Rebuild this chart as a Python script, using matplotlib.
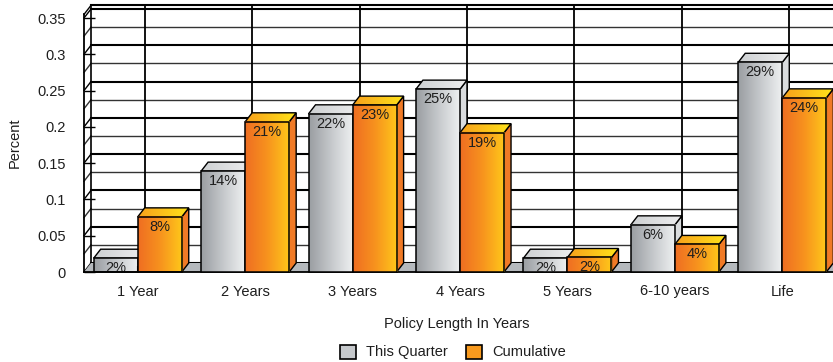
import numpy as np
import matplotlib
matplotlib.use('Agg')
import matplotlib.pyplot as plt
from matplotlib.patches import Polygon, Patch
from matplotlib.colors import LinearSegmentedColormap

plt.rcParams['font.family'] = ['Liberation Sans', 'DejaVu Sans']
plt.rcParams['font.size'] = 10.5

categories = ['1 Year', '2 Years', '3 Years', '4 Years', '5 Years', '6-10 years', 'Life']
this_quarter = [0.019, 0.139, 0.218, 0.252, 0.019, 0.065, 0.289]
cumulative = [0.076, 0.207, 0.230, 0.192, 0.020, 0.038, 0.240]
y_ticks = [0, 0.05, 0.1, 0.15, 0.2, 0.25, 0.3, 0.35]
y_tick_labels = ['0', '0.05', '0.1', '0.15', '0.2', '0.25', '0.3', '0.35']

TOP = 0.355
DX, DY = 0.065, 0.0124   # depth of the fake 3d, in data units
BAR_W = 0.41
TXT = '#1e1e1e'

grey_front = LinearSegmentedColormap.from_list('gf', ['#9a9ea2', '#c6c9cc', '#eff1f2'])
grey_top = LinearSegmentedColormap.from_list('gt', ['#cdd0d2', '#eeeeef'])
orange_front = LinearSegmentedColormap.from_list('of', ['#ef6e22', '#f7931e', '#ffc81a'])
orange_top = LinearSegmentedColormap.from_list('ot', ['#f7a01c', '#ffe41a'])

fig = plt.figure(figsize=(8.33, 3.62), dpi=100)
ax = fig.add_axes([84 / 833, 90 / 362, 752 / 833, 257.6 / 362])
ax.patch.set_visible(False)
for s in ['top', 'right']:
    ax.spines[s].set_visible(False)
ax.spines['left'].set_linewidth(1.3)
ax.spines['bottom'].set_linewidth(1.3)

n = len(categories)
x_left, x_right = -0.5, n - 0.5
grad = np.linspace(0, 1, 64).reshape(1, -1)

# back wall, side wall and floor
grid_vals = np.arange(0, 0.3501, 0.025)
for v in list(grid_vals) + [TOP]:
    major = abs(v / 0.05 - round(v / 0.05)) < 1e-6 or v == TOP
    lw = 1.5 if major else 1.0
    col = 'black' if major else '#333333'
    ax.plot([x_left + DX, x_right + DX], [v + DY, v + DY], color=col, lw=lw,
            clip_on=False, zorder=0.5)
    ax.plot([x_left, x_left + DX], [v, v + DY], color=col, lw=1.0,
            clip_on=False, zorder=0.5)
ax.plot([x_left + DX, x_left + DX], [DY, TOP + DY], color='black', lw=1.2,
        clip_on=False, zorder=0.5)
for i in range(n):
    ax.plot([i + DX, i + DX], [DY, TOP + DY], color='black', lw=1.3,
            clip_on=False, zorder=0.5)

floor = Polygon([(x_left, 0), (x_right, 0), (x_right + DX, DY), (x_left + DX, DY)],
                closed=True, facecolor='#b5b9bd', edgecolor='none', zorder=0.6,
                clip_on=False)
ax.add_patch(floor)


def draw_bar(x0, v, front_cmap, top_cmap, side_color, z):
    x1 = x0 + BAR_W
    side = Polygon([(x1, 0), (x1 + DX, DY), (x1 + DX, v + DY), (x1, v)], closed=True,
                   facecolor=side_color, edgecolor='black', lw=1.0, zorder=z,
                   clip_on=False)
    ax.add_patch(side)
    top_pts = [(x0, v), (x1, v), (x1 + DX, v + DY), (x0 + DX, v + DY)]
    top_clip = Polygon(top_pts, closed=True, transform=ax.transData)
    im = ax.imshow(grad, cmap=top_cmap, extent=(x0, x1 + DX, v, v + DY),
                   aspect='auto', interpolation='bilinear', zorder=z)
    im.set_clip_path(top_clip)
    ax.add_patch(Polygon(top_pts, closed=True, fill=False, edgecolor='black',
                         lw=1.0, zorder=z + 0.1, clip_on=False))
    ax.imshow(grad, cmap=front_cmap, extent=(x0, x1, 0, v), aspect='auto',
              interpolation='bilinear', zorder=z + 0.2)
    ax.add_patch(Polygon([(x0, 0), (x1, 0), (x1, v), (x0, v)], closed=True,
                         fill=False, edgecolor='black', lw=1.1, zorder=z + 0.3,
                         clip_on=False))
    ax.annotate(f'{v * 100:.0f}%', (x0 + BAR_W / 2, v), xytext=(0, -10),
                textcoords='offset pixels', ha='center', va='center',
                color=TXT, fontsize=10.5, zorder=z + 0.4, annotation_clip=False)


z = 1
for i in range(n):
    draw_bar(i - BAR_W, this_quarter[i], grey_front, grey_top, '#dadcde', z)
    z += 1
    draw_bar(i, cumulative[i], orange_front, orange_top, '#f07a26', z)
    z += 1

ax.set_xlim(x_left, x_right)
ax.set_ylim(0, TOP)
ax.set_xticks(range(n))
ax.set_xticklabels(categories, color=TXT)
ax.set_yticks(y_ticks)
ax.set_yticklabels(y_tick_labels, color=TXT)
ax.tick_params(axis='y', direction='in', length=8, width=1.0, pad=13)
ax.tick_params(axis='x', direction='in', length=4, width=1.5, pad=9)

ax.set_xlabel('Policy Length In Years', color=TXT)
ax.xaxis.set_label_coords(0.496, -0.175)
ax.set_ylabel('Percent', color=TXT)
ax.yaxis.set_label_coords(-0.083, 0.5)

handles = [Patch(facecolor='#c6c9cc', edgecolor='black', lw=1.2),
           Patch(facecolor='#f89a1e', edgecolor='black', lw=1.2)]
fig.legend(handles, ['This Quarter', 'Cumulative'], loc='center',
           bbox_to_anchor=(453 / 833, 1 - 352 / 362), ncol=2, frameon=False,
           handlelength=1.1, handleheight=1.1, handletextpad=0.7,
           columnspacing=1.2, fontsize=10.5, labelcolor=TXT)

fig.savefig('out.png', dpi=100)
